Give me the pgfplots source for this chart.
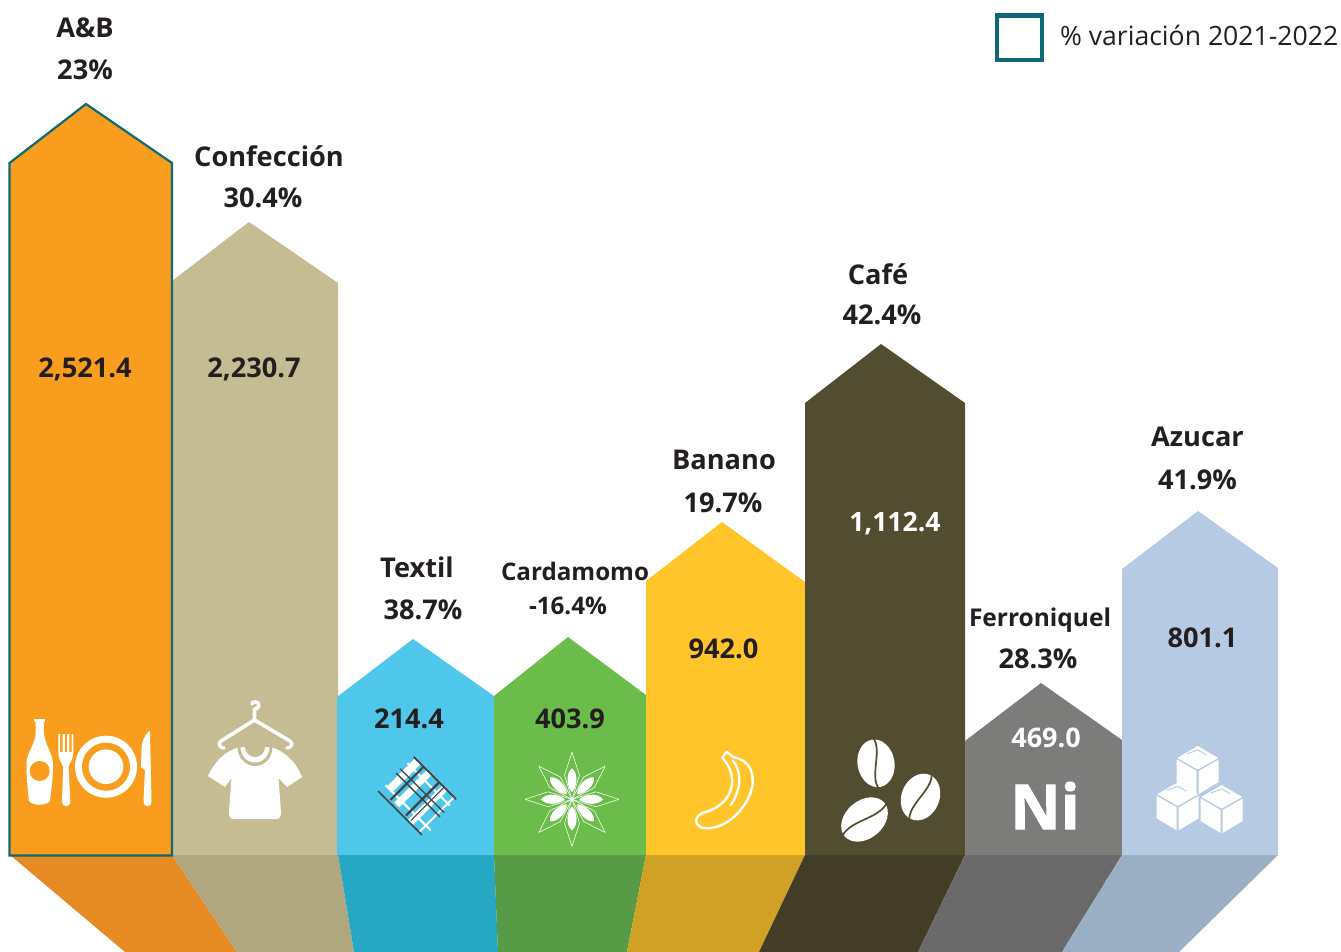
\documentclass[border=0pt]{standalone}
\usepackage{pgfplots}
\pgfplotsset{compat=1.18}
\usepackage{fontspec}
\setmainfont{Open Sans}
\definecolor{teal1}{HTML}{0F6875}
\definecolor{cA}{HTML}{F99D1E}\definecolor{cB}{HTML}{C5BC94}\definecolor{cC}{HTML}{4FC7EA}\definecolor{cD}{HTML}{6CBC4B}
\definecolor{cE}{HTML}{FFC52A}\definecolor{cF}{HTML}{524D30}\definecolor{cG}{HTML}{7C7C7A}\definecolor{cH}{HTML}{B7CAE4}
\definecolor{dA}{HTML}{E68A24}\definecolor{dB}{HTML}{B0A77E}\definecolor{dC}{HTML}{26A7C3}\definecolor{dD}{HTML}{579B47}
\definecolor{dE}{HTML}{D1A126}\definecolor{dF}{HTML}{433D28}\definecolor{dG}{HTML}{6A6A6A}\definecolor{dH}{HTML}{9BAFC4}
\definecolor{ink}{HTML}{231F20}
\newcommand\col[3]{\addplot[fill=#1,draw=none,forget plot] coordinates {#3} -- cycle;}
\newcommand\PP[5]{({#1+(#4)*cos(#3)-(#5)*sin(#3)},{#2+(#4)*sin(#3)+(#5)*cos(#3)})}
\newcommand\bean[5]{%
 \fill[white] \PP{#1}{#2}{#3}{#4}{0} .. controls \PP{#1}{#2}{#3}{#4}{.55*#5} and \PP{#1}{#2}{#3}{.55*#4}{#5} .. \PP{#1}{#2}{#3}{0}{#5}
   .. controls \PP{#1}{#2}{#3}{-.55*#4}{#5} and \PP{#1}{#2}{#3}{-#4}{.55*#5} .. \PP{#1}{#2}{#3}{-#4}{0}
   .. controls \PP{#1}{#2}{#3}{-#4}{-.55*#5} and \PP{#1}{#2}{#3}{-.55*#4}{-#5} .. \PP{#1}{#2}{#3}{0}{-#5}
   .. controls \PP{#1}{#2}{#3}{.55*#4}{-#5} and \PP{#1}{#2}{#3}{#4}{-.55*#5} .. cycle;
 \draw[cF,line width=1.7pt] \PP{#1}{#2}{#3}{-#4-1}{-2} .. controls \PP{#1}{#2}{#3}{-10}{-8} and \PP{#1}{#2}{#3}{10}{8} .. \PP{#1}{#2}{#3}{#4+1}{2};}
\newcommand\halfell[5]{\fill[#1] ({#2-#4},#3) .. controls ({#2-#4},{#3+.55*#5}) and ({#2-.55*#4},{#3+#5}) .. (#2,{#3+#5}) .. controls ({#2+.55*#4},{#3+#5}) and ({#2+#4},{#3+.55*#5}) .. ({#2+#4},#3) -- cycle;}
\newcommand\cube[2]{%
 \fill[white] (#1,{#2-1.5}) -- ({#1-20.5},{#2-13}) -- (#1,{#2-25}) -- ({#1+20.5},{#2-13}) -- cycle;
 \fill[white] ({#1-1},#2) -- ({#1-21},{#2-11.5}) -- ({#1-21},{#2+11}) -- ({#1-1},{#2+23}) -- cycle;
 \fill[white] ({#1+1},#2) -- ({#1+21},{#2-11.5}) -- ({#1+21},{#2+11}) -- ({#1+1},{#2+23}) -- cycle;
 \draw[cH,line width=.9pt] ({#1-11},{#2-17}) -- (#1,{#2-21}) -- ({#1+9},{#2-16});}
\newcommand\pl[5]{\draw[#1] ({417.3+.707*(#2+#3)},{795.7+.707*(#2-#3)}) -- ({417.3+.707*(#4+#5)},{795.7+.707*(#4-#5)});}
\newcommand\lab[4][27.2]{\node[font=\fontsize{#1}{#1}\selectfont\bfseries,text=ink,anchor=center] at (#2,#3) {#4};}
\begin{document}
\begin{tikzpicture}
\begin{axis}[width=1341pt,height=952pt,scale only axis,xmin=0,xmax=1341,ymin=0,ymax=952,y dir=reverse,hide axis,clip=true]
% base bands
\col{dA}{}{(10,855)(172,855)(237,952)(125,952)}
\col{dB}{}{(172,855)(338,855)(354,952)(237,952)}
\col{dC}{}{(338,855)(494,855)(498,952)(354,952)}
\col{dD}{}{(494,855)(646,855)(627,952)(498,952)}
\col{dE}{}{(646,855)(805,855)(759,952)(627,952)}
\col{dF}{}{(805,855)(965,855)(918,952)(759,952)}
\col{dG}{}{(965,855)(1122,855)(1062,952)(918,952)}
\col{dH}{}{(1122,855)(1278,855)(1179,952)(1062,952)}
% columns
\col{cB}{}{(172,855)(172,281)(249,222)(338,283)(338,855)}
\col{cC}{}{(337,855)(337,697)(413,639)(494,696)(494,855)}
\col{cD}{}{(494,855)(494,696)(568,637)(646,695)(646,855)}
\col{cE}{}{(646,855)(646,581)(722,522)(805,582)(805,855)}
\col{cF}{}{(805,855)(805,403)(881,344)(965,403)(965,855)}
\col{cG}{}{(965,855)(965,741)(1041,683)(1122,740)(1122,855)}
\col{cH}{}{(1122,855)(1122,569)(1198,511)(1278,568)(1278,855)}
\addplot[fill=cA,draw=teal1,line width=2.2pt,forget plot] coordinates {(9.5,855.5)(9.5,163)(86,104)(172,163)(172,855.5)} -- cycle;
% legend
\addplot[draw=teal1,line width=4.5pt,fill=white,forget plot] coordinates {(997,15.5)(1042,15.5)(1042,60)(997,60)} -- cycle;
\node[font=\fontsize{26.6}{27}\selectfont,text=ink,anchor=west] at (1056.5,35.5) {\% variación 2021-2022};
% labels
\lab{85}{28}{A\&B}\lab{85}{70}{23\%}
\lab{269}{156}{Confección}\lab{263}{198}{30.4\%}
\lab{417}{567}{Textil}\lab{423}{610}{38.7\%}
\lab[24.2]{575}{571}{Cardamomo}\lab[24.2]{568}{606}{-16.4\%}
\lab{724}{460}{Banano}\lab{723}{503}{19.7\%}
\lab{878}{274}{Café}\lab{882}{315}{42.4\%}
\lab[24.5]{1040}{620.5}{Ferroniquel}\lab{1038}{659}{28.3\%}
\lab{1197.5}{437}{Azucar}\lab{1197.5}{480}{41.9\%}
\lab{85}{369}{2,521.4}\lab{254}{369}{2,230.7}\lab{409}{719}{214.4}\lab{570}{719}{403.9}
\lab{723.5}{649}{942.0}\lab{1202.5}{638}{801.1}
\node[font=\fontsize{26.6}{27}\selectfont\bfseries,text=white] at (895,524) {1,112.4};
\node[font=\fontsize{27}{27}\selectfont\bfseries,text=white] at (1046,738) {469.0};
% food icon
\fill[white] (34,719) rectangle (45,722);
\fill[white] (35.7,722) -- (35.7,733) .. controls (35,745) and (27,752) .. (26.5,763) .. controls (26.5,780) and (28,792) .. (29,801) .. controls (33,806) and (46,806) .. (50,801) .. controls (51,792) and (53,780) .. (53,763) .. controls (52,752) and (45,745) .. (44,733) -- (43.7,722) -- cycle;
\fill[cA] (39.7,771) circle[radius=10];
\fill[white] (58.3,734) -- (60,734) -- (60,752) -- (62.5,752) -- (62.5,734) -- (64.8,734) -- (64.8,752) -- (67,752) -- (67,734) -- (69.3,734) -- (69.3,752) -- (71.5,752) -- (71.5,734) -- (73.3,734) -- (73.3,753) .. controls (73.3,760) and (69,763) .. (68.5,767) -- (70.3,801) .. controls (70.5,808) and (62,808) .. (62,801) -- (63.3,767) .. controls (62,763) and (58.3,760) .. (58.3,753) -- cycle;
\fill[white] (106,766.7) circle[radius=31];
\fill[cA] (106,766.7) circle[radius=24];
\fill[white] (106,766.7) circle[radius=17.3];
\fill[white] (149,731) .. controls (144,736) and (141.5,742) .. (141.5,750) -- (141,767) -- (145,770) -- (143.5,801) .. controls (143.5,808) and (152,808) .. (151.5,801) -- (150,733) .. controls (150,731) and (149.5,730.5) .. (149,731) -- cycle;
% hanger
\draw[white,line width=3.6pt,line cap=round,line join=round] (252,704) .. controls (252,702) and (256,701) .. (258,703) .. controls (260,706) and (258,709) .. (254.5,709) -- (254.5,720) -- (290,741) .. controls (293,743) and (292,748) .. (287,748);
\draw[white,line width=3.6pt,line cap=round,line join=round] (254.5,720) -- (221,741) .. controls (218,743) and (219,748) .. (224,748);
% shirt
\fill[white] (240,747) .. controls (226,750) and (214,762) .. (208,776) -- (225,787) -- (231.5,778) -- (229,812) .. controls (229,818) and (231,819) .. (234,819) -- (276,819) .. controls (279,819) and (281,818) .. (281,812) -- (278.5,778) -- (287,787) -- (302,777) .. controls (296,762) and (284,750) .. (270,747) -- cycle;
\halfell{cB}{255}{747}{17.5}{19}
\halfell{white}{255}{747}{14.5}{15.5}
\halfell{cB}{255}{747}{10}{10}
% plaid
\pl{white,line width=8pt}{-24}{-15}{-24}{25}
\pl{white,line width=7pt}{-8}{-21}{-8}{24}
\pl{white,line width=7pt}{14}{-24}{14}{24}
\pl{white,line width=2pt}{27}{-25}{27}{25}
\pl{white,line width=2pt}{-30}{-15}{34}{-15}
\pl{white,line width=2pt}{-30}{16}{30}{16}
\pl{ink!85,line width=1.7pt}{-30}{25}{30}{25}
\pl{ink!85,line width=1.4pt}{-31}{7}{31}{7}
\pl{ink!85,line width=1.4pt}{-31}{1}{31}{1}
\pl{ink!85,line width=1.7pt}{-31}{-24.5}{31}{-24.5}
\pl{ink!85,line width=2.2pt}{-16}{-22}{-16}{24}
\pl{ink!85,line width=2.2pt}{6}{-22}{6}{24}
\pl{ink!85,line width=1.1pt}{13}{-22}{13}{24}
% star anise
\pgfplotsinvokeforeach{0,45,90,135,180,225,270,315}{
 \draw[white,line width=.55pt,line join=round] \PP{572}{799.3}{#1}{0}{0} -- \PP{572}{799.3}{#1}{24}{7.5} -- \PP{572}{799.3}{#1}{47}{0} -- \PP{572}{799.3}{#1}{24}{-7.5} -- cycle;
 \fill[white] \PP{572}{799.3}{#1}{7}{0} .. controls \PP{572}{799.3}{#1}{13}{5.5} and \PP{572}{799.3}{#1}{26}{6.5} .. \PP{572}{799.3}{#1}{31}{0} .. controls \PP{572}{799.3}{#1}{26}{-6.5} and \PP{572}{799.3}{#1}{13}{-5.5} .. cycle;
}
% banana
\draw[white,line width=2.4pt,line join=round] (722.3,757.7) -- (726.7,751.7) -- (733,757) .. controls (748.3,760) and (753.3,770) .. (752.7,783.3) .. controls (750.7,803.3) and (730,828.3) .. (706.7,828.3) .. controls (694,828.3) and (691.5,815) .. (706.7,811.7) .. controls (733.3,803.3) and (740,776.7) .. cycle;
\draw[white,line width=2.4pt,line cap=round] (730.7,805) .. controls (741.7,790) and (741.7,770) .. (732.7,760.7);
% beans
\bean{876}{763.3}{80}{24}{18.5}
\bean{920.5}{797}{112}{24}{19}
\bean{864.5}{819.5}{140}{26}{19}
% Ni
\node[font=\fontsize{62}{62}\selectfont\bfseries\addfontfeature{FakeBold=1.6},text=white] at (1045,805.5) {Ni};
% cubes
\cube{1197.7}{771}
\cube{1177.7}{807.3}
\cube{1221.7}{810}
\end{axis}
\pgfresetboundingbox
\path[use as bounding box] (current axis.south west) rectangle (current axis.north east);
\end{tikzpicture}
\end{document}
